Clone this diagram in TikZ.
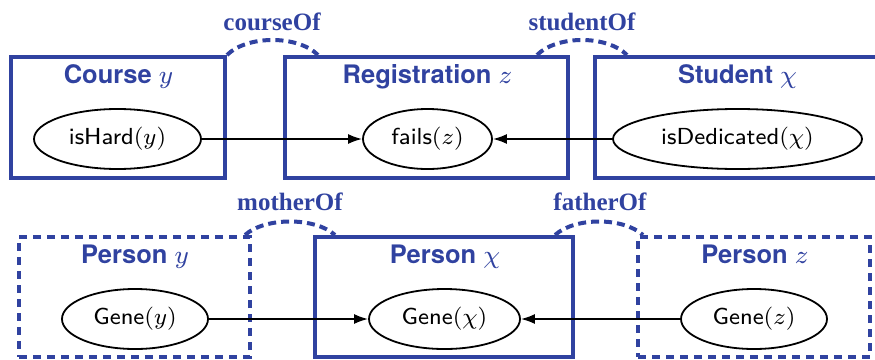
\RequirePackage{fix-cm}
\documentclass[tikz,border=0pt]{standalone}
\usepackage{fontspec}
\DeclareFontShape{OML}{cmm}{m}{it}{<->cmmi8}{}
\DeclareFontShape{OT1}{cmr}{m}{n}{<->cmr8}{}
\newfontfamily\titlefont{TeX Gyre Heros}
\newfontfamily\relfont{Liberation Serif}
\newfontfamily\varfont{lmsans8-regular.otf}
\usetikzlibrary{arrows.meta,shapes.geometric}
\definecolor{plateblue}{RGB}{48,66,160}
\tikzset{
  platebox/.style={draw=plateblue, line width=4pt, rectangle, inner sep=0pt},
  dashbox/.style={platebox, dash pattern=on 8pt off 6pt},
  varnode/.style={draw=black, line width=1.8pt, ellipse, inner sep=0pt, minimum height=60pt,
    font=\varfont\fontsize{23.2}{27}\selectfont},
  platetitle/.style={anchor=base, text=plateblue, font=\titlefont\bfseries\fontsize{25.5}{30}\selectfont},
  rellabel/.style={anchor=base, text=plateblue, font=\relfont\bfseries\fontsize{25}{29}\selectfont},
  relarc/.style={draw=plateblue, line width=4pt, dash pattern=on 8pt off 5pt},
  dep/.style={draw=black, line width=1.8pt, -{Latex[length=14pt,width=10pt]}}
}
\begin{document}
\begin{tikzpicture}[x=1pt,y=-1pt]
\clip (0,0) rectangle (875,359);
% top row plates
\node[platebox, minimum width=214pt, minimum height=121pt] (course) at (118,117.5) {};
\node[platebox, minimum width=283pt, minimum height=121pt] (registration) at (426.5,117.5) {};
\node[platebox, minimum width=290pt, minimum height=121pt] (student) at (740,117.5) {};
% bottom row plates
\node[dashbox, minimum width=231pt, minimum height=120pt] (persony) at (134.5,297) {};
\node[platebox, minimum width=258pt, minimum height=120pt] (personx) at (444,297) {};
\node[dashbox, minimum width=232pt, minimum height=120pt] (personz) at (754,297) {};
% titles
\node[platetitle] (tcourse) at (118.5,83) {Course \(y\)};
\node[platetitle] (treg) at (427.5,83) {Registration \(z\)};
\node[platetitle] (tstudent) at (737.5,83) {Student \(\chi\)};
\node[platetitle] (tpersony) at (135,263) {Person \(y\)};
\node[platetitle] (tpersonx) at (445,263) {Person \(\chi\)};
\node[platetitle] (tpersonz) at (755,263) {Person \(z\)};
% variables
\node[varnode, minimum width=167pt] (ishard) at (117.5,139) {isHard\((y)\)};
\node[varnode, minimum width=129pt] (fails) at (427.5,139) {fails\((z)\)};
\node[varnode, minimum width=249pt] (isded) at (737.5,139) {isDedicated\((\chi)\)};
\node[varnode, minimum width=146pt] (geney) at (135,319) {Gene\((y)\)};
\node[varnode, minimum width=151pt] (genex) at (444.5,319) {Gene\((\chi)\)};
\node[varnode, minimum width=146pt] (genez) at (754,319) {Gene\((z)\)};
% dependencies
\draw[dep] (ishard) -- (fails);
\draw[dep] (isded) -- (fails);
\draw[dep] (geney) -- (genex);
\draw[dep] (genez) -- (genex);
% relation arcs
\coordinate (co1) at (227,55);
\coordinate (co2) at (318,55);
\coordinate (so1) at (537,55);
\coordinate (so2) at (627,55);
\coordinate (mo1) at (245,235);
\coordinate (mo2) at (335,235);
\coordinate (fo1) at (555,235);
\coordinate (fo2) at (643,235);
\draw[relarc] (co1) .. controls +(20,-20) and +(-20,-20) .. (co2);
\draw[relarc] (so1) .. controls +(20,-20) and +(-20,-20) .. (so2);
\draw[relarc] (mo1) .. controls +(20,-18) and +(-20,-18) .. (mo2);
\draw[relarc] (fo1) .. controls +(20,-18) and +(-20,-18) .. (fo2);
\node[rellabel] (lcourse) at (272,30) {courseOf};
\node[rellabel] (lstudent) at (582,30) {studentOf};
\node[rellabel] (lmother) at (290,210) {motherOf};
\node[rellabel] (lfather) at (600,210) {fatherOf};
\end{tikzpicture}
\end{document}
